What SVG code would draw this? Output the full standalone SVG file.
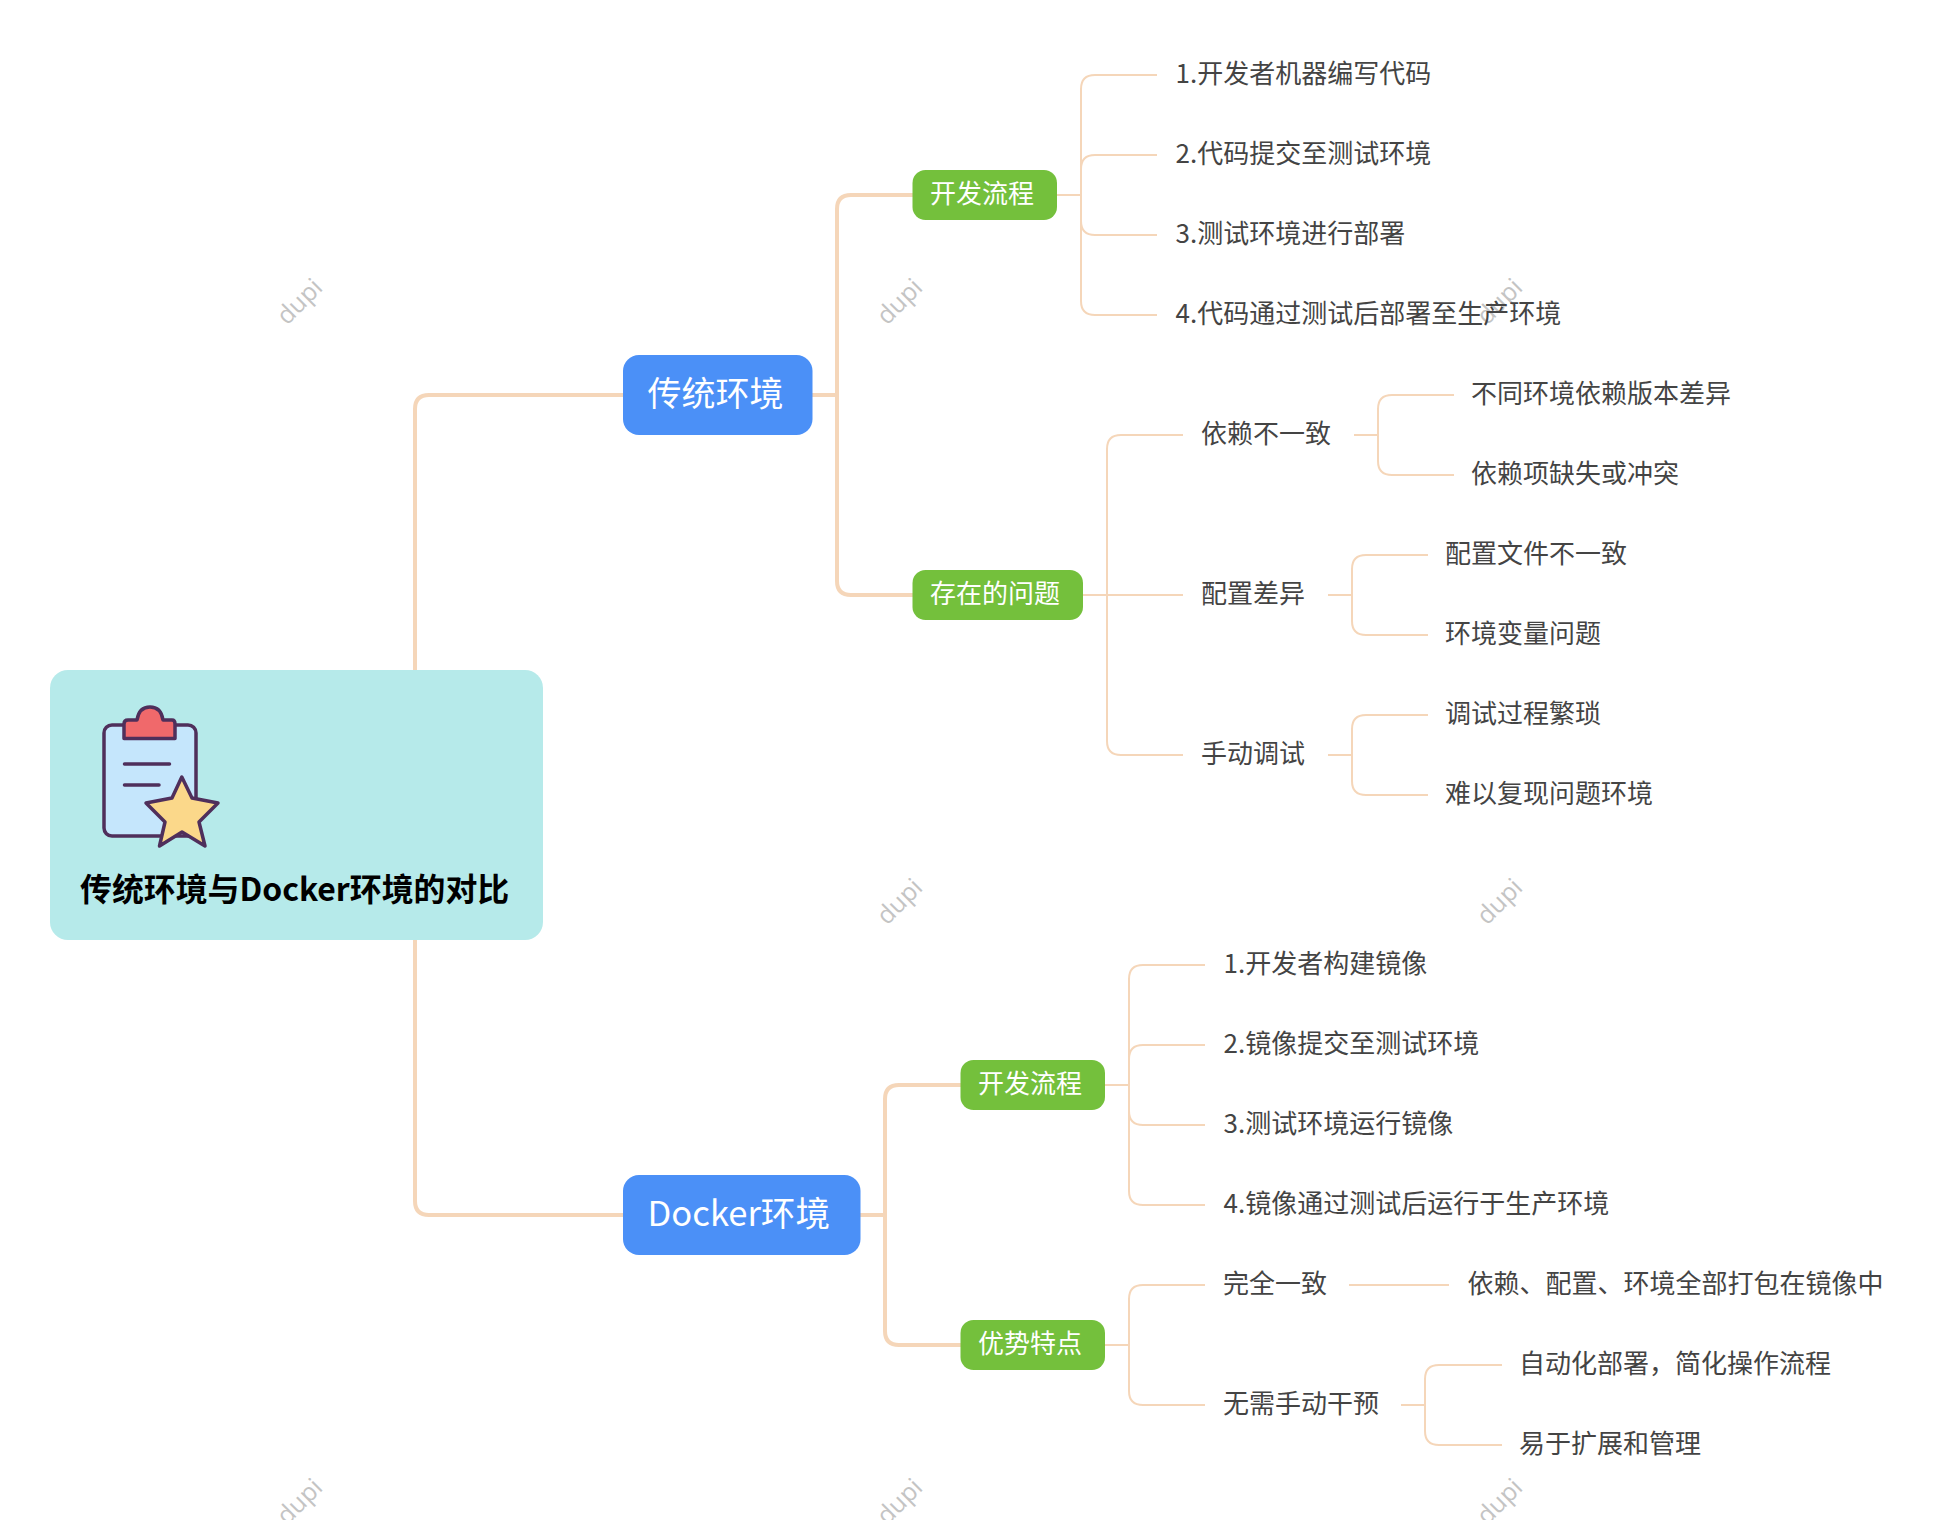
<svg xmlns="http://www.w3.org/2000/svg" width="1956" height="1520" viewBox="0 0 1956 1520">
<style>
text{font-family:"Noto Sans CJK SC","Noto Sans",sans-serif}
.c1{fill:none;stroke:#f5d6b9;stroke-width:4}
.c2{fill:none;stroke:#f5d6b9;stroke-width:2}
.lv1{fill:#4b90f7}
.lv2{fill:#74c03c}
.t1{font-size:34px;fill:#fff}
.t2{font-size:26px;fill:#fff}
.t3{font-size:26px;fill:#444}
.wm{font-family:"Open Sans",sans-serif;font-size:25px;fill:#c4c4c4}
.ic{stroke:#4f2f5b;stroke-width:3.5;stroke-linejoin:round}
</style>
<rect width="1956" height="1520" fill="#fff"/>
<g id="watermarks">
<text class="wm" transform="translate(287,326) rotate(-45)">dupi</text>
<text class="wm" transform="translate(887,326) rotate(-45)">dupi</text>
<text class="wm" transform="translate(1487,326) rotate(-45)">dupi</text>
<text class="wm" transform="translate(887,926) rotate(-45)">dupi</text>
<text class="wm" transform="translate(1487,926) rotate(-45)">dupi</text>
<text class="wm" transform="translate(287,1526) rotate(-45)">dupi</text>
<text class="wm" transform="translate(887,1526) rotate(-45)">dupi</text>
<text class="wm" transform="translate(1487,1526) rotate(-45)">dupi</text>
</g>
<g id="connectors">
<path class="c1" d="M415 670V409Q415 395 429 395H623"/>
<path class="c1" d="M415 940V1201Q415 1215 429 1215H623"/>
<path class="c1" d="M812 395H837"/>
<path class="c1" d="M913 195H851Q837 195 837 209V581Q837 595 851 595H913"/>
<path class="c1" d="M860 1215H885"/>
<path class="c1" d="M961 1085H899Q885 1085 885 1099V1331Q885 1345 899 1345H961"/>
<path class="c2" d="M1057 195H1081"/>
<path class="c2" d="M1157 75H1095Q1081 75 1081 89V301Q1081 315 1095 315H1157"/>
<path class="c2" d="M1157 155H1095Q1081 155 1081 169"/>
<path class="c2" d="M1157 235H1095Q1081 235 1081 221"/>
<path class="c2" d="M1083 595H1183"/>
<path class="c2" d="M1183 435H1121Q1107 435 1107 449V741Q1107 755 1121 755H1183"/>
<path class="c2" d="M1354 435H1378"/>
<path class="c2" d="M1454 395H1392Q1378 395 1378 409V461Q1378 475 1392 475H1454"/>
<path class="c2" d="M1328 595H1352"/>
<path class="c2" d="M1428 555H1366Q1352 555 1352 569V621Q1352 635 1366 635H1428"/>
<path class="c2" d="M1328 755H1352"/>
<path class="c2" d="M1428 715H1366Q1352 715 1352 729V781Q1352 795 1366 795H1428"/>
<path class="c2" d="M1105 1085H1129"/>
<path class="c2" d="M1205 965H1143Q1129 965 1129 979V1191Q1129 1205 1143 1205H1205"/>
<path class="c2" d="M1205 1045H1143Q1129 1045 1129 1059"/>
<path class="c2" d="M1205 1125H1143Q1129 1125 1129 1111"/>
<path class="c2" d="M1105 1345H1129"/>
<path class="c2" d="M1205 1285H1143Q1129 1285 1129 1299V1391Q1129 1405 1143 1405H1205"/>
<path class="c2" d="M1349 1285H1449"/>
<path class="c2" d="M1401 1405H1425"/>
<path class="c2" d="M1502 1365H1439Q1425 1365 1425 1379V1431Q1425 1445 1439 1445H1502"/>
</g>
<g id="root">
<rect x="50" y="670" width="493" height="270" rx="18" fill="#b6eaea"/>
<rect class="ic" x="104" y="725" width="92" height="111" rx="8" fill="#c5e6fc"/>
<path class="ic" d="M124 738.5V724Q124 720 128 720H137Q139 707 150 707Q161 707 163 720H172Q175 720 175 724V738.5Z" fill="#f0696b"/>
<path class="ic" fill="none" stroke-linecap="round" d="M124.500 764H169.500M124.500 785H159"/>
<path class="ic" fill="#fbd88a" d="M181.800 777L192 798L218 803L199 822L205 846L182 832L159.500 846L165 822L146 803L172 798Z"/>
<text x="80" y="901" font-size="31.900" font-weight="700" fill="#000">传统环境与Docker环境的对比</text>
</g>
<g id="n-traditional"><rect class="lv1" x="623" y="355" width="189.500" height="80" rx="16"/><text class="t1" x="647.500" y="406">传统环境</text></g>
<g id="n-docker"><rect class="lv1" x="623" y="1175" width="237.500" height="80" rx="16"/><text class="t1" x="647.500" y="1226" font-size="34.600" style="font-size:34.600px">Docker环境</text></g>
<g id="n-dev1"><rect class="lv2" x="912.500" y="170" width="144.500" height="50" rx="13"/><text class="t2" x="930" y="203">开发流程</text></g>
<g id="n-problems"><rect class="lv2" x="912.500" y="570" width="170.500" height="50" rx="13"/><text class="t2" x="930" y="603">存在的问题</text></g>
<g id="n-dev2"><rect class="lv2" x="960.500" y="1060" width="144.500" height="50" rx="13"/><text class="t2" x="978" y="1093">开发流程</text></g>
<g id="n-adv"><rect class="lv2" x="960.500" y="1320" width="144.500" height="50" rx="13"/><text class="t2" x="978" y="1353">优势特点</text></g>
<g id="leaves">
<text class="t3" x="1175.500" y="83">1.开发者机器编写代码</text>
<text class="t3" x="1175.500" y="163">2.代码提交至测试环境</text>
<text class="t3" x="1175.500" y="243">3.测试环境进行部署</text>
<text class="t3" x="1175.500" y="323">4.代码通过测试后部署至生产环境</text>
<text class="t3" x="1201" y="443">依赖不一致</text>
<text class="t3" x="1471" y="403">不同环境依赖版本差异</text>
<text class="t3" x="1471" y="483">依赖项缺失或冲突</text>
<text class="t3" x="1201" y="603">配置差异</text>
<text class="t3" x="1445" y="563">配置文件不一致</text>
<text class="t3" x="1445" y="643">环境变量问题</text>
<text class="t3" x="1201" y="763">手动调试</text>
<text class="t3" x="1445" y="723">调试过程繁琐</text>
<text class="t3" x="1445" y="803">难以复现问题环境</text>
<text class="t3" x="1223.500" y="973">1.开发者构建镜像</text>
<text class="t3" x="1223.500" y="1053">2.镜像提交至测试环境</text>
<text class="t3" x="1223.500" y="1133">3.测试环境运行镜像</text>
<text class="t3" x="1223.500" y="1213">4.镜像通过测试后运行于生产环境</text>
<text class="t3" x="1223" y="1293">完全一致</text>
<text class="t3" x="1467.500" y="1293">依赖、配置、环境全部打包在镜像中</text>
<text class="t3" x="1223" y="1413">无需手动干预</text>
<text class="t3" x="1519" y="1373">自动化部署，简化操作流程</text>
<text class="t3" x="1519" y="1453">易于扩展和管理</text>
</g>
</svg>
